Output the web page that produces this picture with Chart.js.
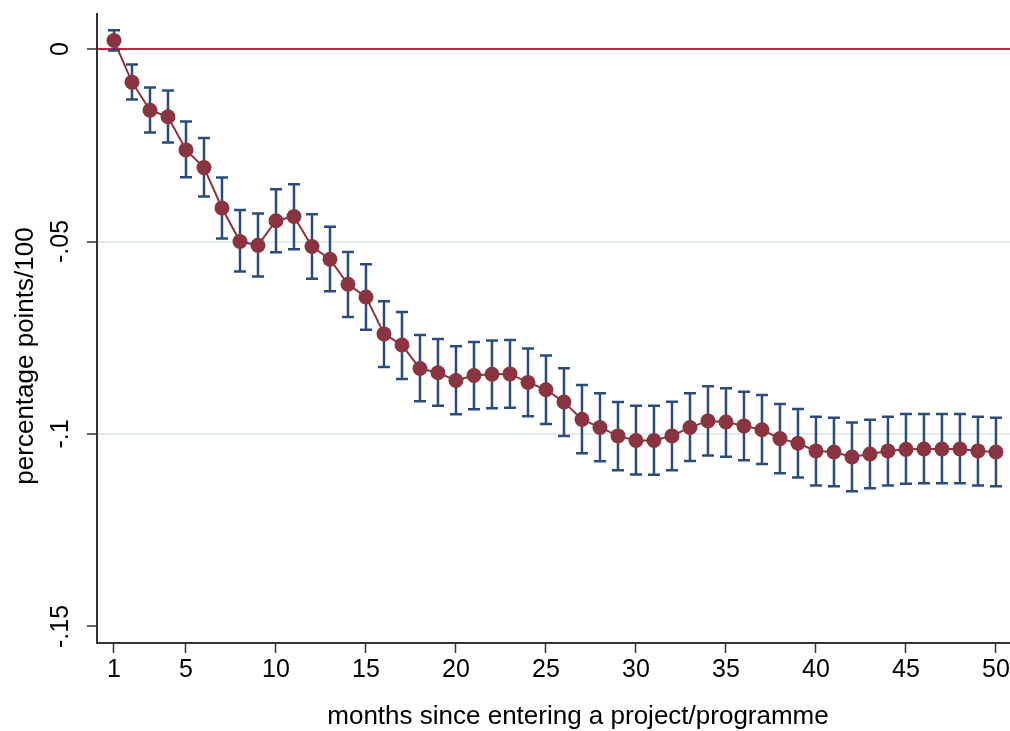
<!DOCTYPE html>
<html>
<head>
<meta charset="utf-8">
<script src="https://cdn.jsdelivr.net/npm/chart.js@4"></script>
<style>
  html, body { margin: 0; padding: 0; background: #fff; overflow: hidden; }
  #wrap { width: 1010px; height: 731px; }
</style>
</head>
<body>
<div id="wrap"><canvas id="effectChart" width="1010" height="731"></canvas></div>
<script>
const months = [1, 2, 3, 4, 5, 6, 7, 8, 9, 10, 11, 12, 13, 14, 15, 16, 17, 18, 19, 20,
    21, 22, 23, 24, 25, 26, 27, 28, 29, 30, 31, 32, 33, 34, 35, 36, 37, 38, 39, 40,
    41, 42, 43, 44, 45, 46, 47, 48, 49, 50];

const estimate = [0.0022, -0.0086, -0.0159, -0.0176, -0.0262, -0.0308, -0.0413, -0.0500, -0.0510, -0.0446,
    -0.0435, -0.0513, -0.0546, -0.0611, -0.0644, -0.0740, -0.0769, -0.0830, -0.0841, -0.0861,
    -0.0848, -0.0845, -0.0844, -0.0866, -0.0885, -0.0917, -0.0962, -0.0983, -0.1005, -0.1017,
    -0.1017, -0.1005, -0.0983, -0.0966, -0.0969, -0.0979, -0.0989, -0.1012, -0.1024, -0.1044,
    -0.1047, -0.1060, -0.1052, -0.1044, -0.1040, -0.1039, -0.1039, -0.1039, -0.1044, -0.1047];

const upper = [0.0049, -0.0040, -0.0100, -0.0108, -0.0188, -0.0231, -0.0334, -0.0418, -0.0427, -0.0364,
    -0.0351, -0.0429, -0.0462, -0.0527, -0.0559, -0.0655, -0.0683, -0.0743, -0.0753, -0.0772,
    -0.0761, -0.0757, -0.0756, -0.0778, -0.0796, -0.0829, -0.0873, -0.0894, -0.0917, -0.0927,
    -0.0927, -0.0916, -0.0894, -0.0876, -0.0881, -0.0890, -0.0899, -0.0922, -0.0935, -0.0955,
    -0.0958, -0.0970, -0.0963, -0.0955, -0.0948, -0.0948, -0.0948, -0.0948, -0.0955, -0.0958];

const lower = [-0.0004, -0.0131, -0.0217, -0.0243, -0.0333, -0.0383, -0.0492, -0.0578, -0.0591, -0.0528,
    -0.0520, -0.0597, -0.0629, -0.0696, -0.0729, -0.0826, -0.0857, -0.0915, -0.0927, -0.0949,
    -0.0936, -0.0933, -0.0932, -0.0954, -0.0974, -0.1005, -0.1050, -0.1071, -0.1094, -0.1105,
    -0.1106, -0.1094, -0.1070, -0.1056, -0.1059, -0.1068, -0.1078, -0.1102, -0.1113, -0.1134,
    -0.1136, -0.1149, -0.1141, -0.1134, -0.1129, -0.1128, -0.1128, -0.1128, -0.1134, -0.1136];

const xTicks = [1, 5, 10, 15, 20, 25, 30, 35, 40, 45, 50];
const yTicks = [0, -0.05, -0.1, -0.15];

const xTitle = "months since entering a project/programme";
const yTitle = "percentage points/100";

const FONT = "'Liberation Sans', Arial, Helvetica, sans-serif";

// stata-like tick label: 0, -.05, -.1, -.15
function fmtTick(v) {
    if (Math.abs(v) < 1e-9) return "0";
    return (v < 0 ? "-" : "") + String(Math.abs(Number(v.toFixed(4)))).replace(/^0/, "");
}

// no extra room for end labels, the plot area is set by hand
function noPad(s) {
    s.paddingTop = 0; s.paddingBottom = 0;
    s.paddingLeft = 0; s.paddingRight = 0;
}

// caps drawn behind the markers
const errorBars = {
    id: "errorBars",
    beforeDatasetsDraw(chart) {
        const ctx = chart.ctx;
        const xs = chart.scales.x, ys = chart.scales.y;
        ctx.save();
        ctx.strokeStyle = "#2b4c78";
        ctx.lineWidth = 2.5;
        months.forEach((m, i) => {
            const px = xs.getPixelForValue(m);
            const top = ys.getPixelForValue(upper[i]);
            const bot = ys.getPixelForValue(lower[i]);
            ctx.beginPath();
            ctx.moveTo(px, top); ctx.lineTo(px, bot);
            ctx.moveTo(px - 6, top); ctx.lineTo(px + 6, top);
            ctx.moveTo(px - 6, bot); ctx.lineTo(px + 6, bot);
            ctx.stroke();
        });
        ctx.restore();
    }
};

const axisTitles = {
    id: "axisTitles",
    afterDraw(chart) {
        const ctx = chart.ctx;
        ctx.save();
        ctx.fillStyle = "#000";
        ctx.font = "26px " + FONT;
        ctx.textAlign = "center";
        ctx.textBaseline = "middle";
        ctx.fillText(xTitle, 578, 717);
        ctx.translate(26, 356);
        ctx.rotate(-Math.PI / 2);
        ctx.fillText(yTitle, 0, 0);
        ctx.restore();
    }
};

const ctx = document.getElementById("effectChart").getContext("2d");

new Chart(ctx, {
    type: "line",
    data: {
        datasets: [{
            data: months.map((m, i) => ({ x: m, y: estimate[i] })),
            borderColor: "#8a3441",
            borderWidth: 2,
            pointRadius: 7.5,
            pointBackgroundColor: "#8a3441",
            pointBorderWidth: 0,
            tension: 0,
            clip: false
        }]
    },
    options: {
        responsive: false,
        animation: false,
        events: [],
        layout: { autoPadding: false, padding: { top: 14, left: 0, right: 0, bottom: 0 } },
        plugins: {
            legend: { display: false },
            tooltip: { enabled: false }
        },
        scales: {
            x: {
                type: "linear",
                min: 0.056,
                max: 50.78,
                afterBuildTicks: s => { s.ticks = xTicks.map(v => ({ value: v })); },
                afterFit: s => { s.height = 88; noPad(s); },
                ticks: {
                    color: "#000",
                    font: { family: FONT, size: 25 },
                    padding: 2,
                    maxRotation: 0,
                    callback: v => String(v)
                },
                grid: {
                    drawOnChartArea: false,
                    tickLength: 10,
                    tickColor: "#333",
                    tickWidth: 1.5
                },
                border: { color: "#333", width: 2 }
            },
            y: {
                min: -0.1543,
                max: 0.0091,
                afterBuildTicks: s => { s.ticks = yTicks.map(v => ({ value: v })); },
                afterFit: s => { s.width = 97; noPad(s); },
                ticks: {
                    color: "#000",
                    font: { family: FONT, size: 25 },
                    padding: 4,
                    minRotation: 90,
                    maxRotation: 90,
                    crossAlign: "center",
                    callback: v => fmtTick(v)
                },
                grid: {
                    color: c => {
                        const v = c.tick ? c.tick.value : null;
                        if (v === 0) return "#cd1f40";
                        if (v === -0.15) return "rgba(0,0,0,0)";
                        return "#e3ecef";
                    },
                    lineWidth: 2,
                    tickLength: 10,
                    tickColor: "#333",
                    tickWidth: 1.5
                },
                border: { color: "#333", width: 2 }
            }
        }
    },
    plugins: [errorBars, axisTitles]
});
</script>
</body>
</html>
